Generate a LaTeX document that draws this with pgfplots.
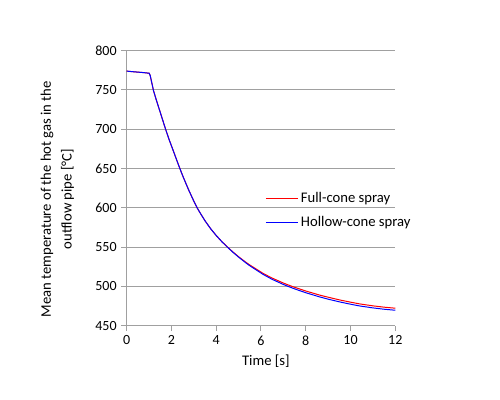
\documentclass[border=0pt]{standalone}
\usepackage{pgfplots}
\pgfplotsset{compat=1.18}
\usepackage{fontspec}
\setmainfont{Carlito}
\definecolor{gridgray}{RGB}{160,160,160}
\definecolor{fullred}{RGB}{255,0,0}
\definecolor{hollowblue}{RGB}{0,0,255}
\begin{document}
\begin{tikzpicture}
\begin{axis}[
  name=main,
  scale only axis,
  width=201.5pt,
  height=206.3pt,
  xmin=0, xmax=12,
  ymin=450, ymax=800,
  xtick={0,2,...,12},
  ytick={450,500,...,800},
  axis x line*=bottom,
  axis y line*=left,
  axis line style={gridgray, line width=0.75pt, -},
  tick style={gridgray, line width=0.75pt},
  tick pos=left,
  tick align=outside,
  major tick length=4pt,
  ymajorgrids,
  grid style={gridgray, line width=0.75pt},
  tick label style={font=\fontsize{10.5}{12}\selectfont},
  /pgf/number format/assume math mode=true,
  xlabel={Time [s]},
  ylabel={Mean temperature of the hot gas in the\\outflow pipe [°C]},
  xlabel style={at={(axis description cs:0.518,-0.13)}, anchor=center,
    font=\fontsize{11}{13}\selectfont},
  ylabel style={at={(axis description cs:-0.258,0.46)}, anchor=center,
    align=center, font=\fontsize{11}{15.5}\selectfont},
  legend style={at={(axis description cs:0.5,0.505)}, anchor=north west,
    draw=none, fill=none, font=\fontsize{11}{13}\selectfont,
    row sep=5pt, /tikz/every even column/.append style={column sep=2pt}},
  legend cell align=left,
  legend image code/.code={\draw[#1] (0pt,0pt) -- (24pt,0pt);},
]
\addplot[fullred, line width=0.75pt] coordinates {
 (0.0,774) (0.25,773.3) (0.5,772.7) (0.75,772.1) (1.0,771.3) (1.05,768.5)
 (1.1,762) (1.2,749) (1.3,739.5) (1.4,730.5) (1.5,721.5) (1.6,712.5)
 (1.74,700) (1.9,686.5) (2.0,679) (2.2,663.5) (2.35,652) (2.5,641)
 (2.75,624) (3.0,608.5) (3.15,600) (3.25,595) (3.5,583.5) (3.75,573.5)
 (4.0,564.8) (4.25,557) (4.54,549.2) (4.75,543.8) (5.0,537.8)
 (5.36,530) (5.5,527.3) (6.1,516.5) (6.5,510.6) (7.0,504.3)
 (7.29,501.1) (7.5,498.9) (8.0,494.2) (8.63,488.9) (9.0,486.3)
 (9.5,482.9) (10.0,480) (10.4,477.8) (11.0,475.3) (11.5,473.6) (12.0,472.3)
};
\addlegendentry{Full-cone spray}
\addplot[hollowblue, line width=0.75pt] coordinates {
 (0.0,774) (0.25,773.3) (0.5,772.7) (0.75,772.1) (1.0,771.3) (1.05,768.5)
 (1.1,762) (1.2,749) (1.3,739.5) (1.4,730.5) (1.5,721.5) (1.6,712.5)
 (1.74,700) (1.9,686.5) (2.0,679) (2.2,663.5) (2.35,652) (2.5,641)
 (2.75,624) (3.0,608.5) (3.15,600) (3.25,595) (3.5,583.5) (3.75,573.5)
 (4.0,564.8) (4.25,557) (4.54,548.9) (4.75,543.4) (5.0,537.3)
 (5.36,529.2) (5.5,526.3) (6.1,515.2) (6.5,509) (7.0,502.5)
 (7.29,499.2) (7.5,496.9) (8.0,492) (8.63,486.6) (9.0,483.8)
 (9.5,480.4) (10.0,477.4) (10.4,475.2) (11.0,472.7) (11.5,471) (12.0,469.7)
};
\addlegendentry{Hollow-cone spray}
\end{axis}
\path ([shift={(-95pt,-55.6pt)}]main.south west) rectangle ([shift={(78.5pt,38pt)}]main.north east);
\end{tikzpicture}
\end{document}
